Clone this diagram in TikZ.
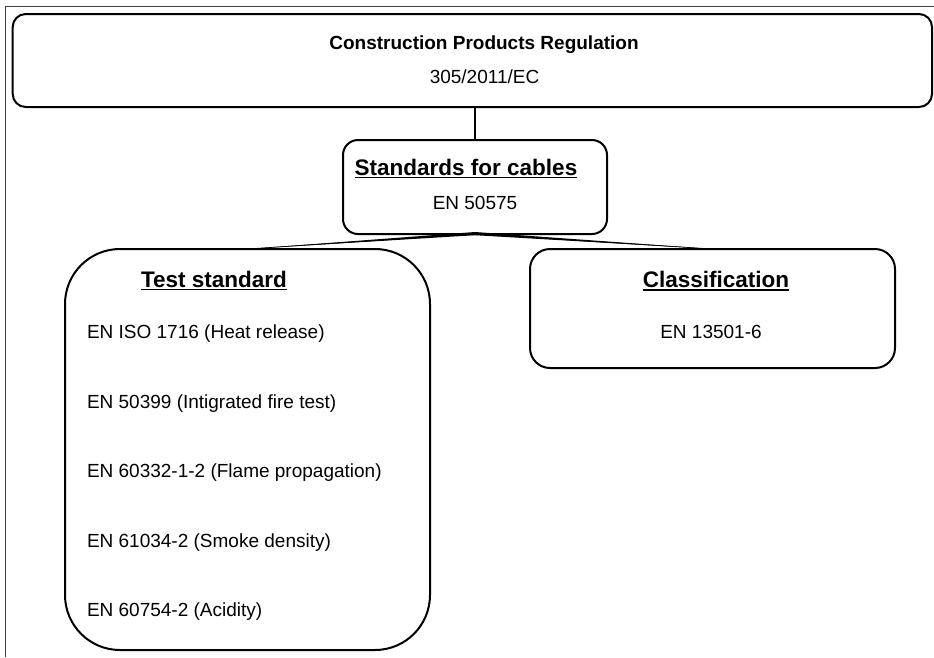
\documentclass[tikz,border=0pt]{standalone}
\usepackage{fontspec}
\setmainfont{Liberation Sans}
\begin{document}
\begin{tikzpicture}[x=1pt,y=-1pt,
  box/.style={draw, line width=2pt, inner sep=0pt, outer sep=0pt},
  body/.style={font=\fontsize{19}{22}\selectfont, inner sep=0pt, outer sep=0pt, anchor=base},
  item/.style={body, anchor=base west},
  toptitle/.style={font=\fontsize{19}{22}\selectfont\bfseries, inner sep=0pt, outer sep=0pt, anchor=base},
  head/.style={font=\fontsize{22.5}{26}\selectfont\bfseries, inner sep=0pt, outer sep=0pt, anchor=base},
  uline/.style={line width=1.4pt},
  link/.style={line width=2pt}]
\useasboundingbox (0,0) rectangle (934,657);
% outer frame
\draw[line width=1pt, black!75] (5,657) -- (5,6) -- (934,6);

% boxes
\node[box, rounded corners=13pt, minimum width=919.3pt, minimum height=93pt] (cpr) at (472.35,60.5) {};
\node[box, rounded corners=15pt, minimum width=264pt, minimum height=94pt] (std) at (475,187) {};
\node[box, rounded corners=55pt, minimum width=365pt, minimum height=401pt] (test) at (247.5,449.5) {};
\node[box, rounded corners=20pt, minimum width=365pt, minimum height=119pt] (cls) at (712.5,308.5) {};

% connectors
\draw[link] (std.north |- cpr.south) -- (std.north);
\fill (test.north) -- ([yshift=2pt]std.south) -- ([yshift=-1.2pt]std.south) -- cycle;
\draw[line width=0.7pt] (std.south) -- (test.north);
\fill (cls.north) -- ([yshift=2pt]std.south) -- ([yshift=-1.2pt]std.south) -- cycle;
\draw[line width=0.7pt] (std.south) -- (cls.north);

% texts
\node[toptitle] (t1) at (484,49.5) {Construction Products Regulation};
\node[body] (t2) at (484.5,83.5) {305/2011/EC};

\node[head] (h1) at (466,175) {Standards for cables};
\draw[uline] ([yshift=-2.5pt]h1.base west) -- ([yshift=-2.5pt]h1.base east);
\node[body] (s1) at (475,209.5) {EN 50575};

\node[head] (h2) at (214,287) {Test standard};
\draw[uline] ([yshift=-2.5pt]h2.base west) -- ([yshift=-2.5pt]h2.base east);
\node[item] (i1) at (87,338.3) {EN ISO 1716 (Heat release)};
\node[item] (i2) at (87,408) {EN 50399 (Intigrated fire test)};
\node[item] (i3) at (87,477.5) {EN 60332-1-2 (Flame propagation)};
\node[item] (i4) at (87,547.3) {EN 61034-2 (Smoke density)};
\node[item] (i5) at (87,616.7) {EN 60754-2 (Acidity)};

\node[head] (h3) at (716,287.3) {Classification};
\draw[uline] ([yshift=-2.5pt]h3.base west) -- ([yshift=-2.5pt]h3.base east);
\node[body] (c1) at (711,338.7) {EN 13501-6};
\end{tikzpicture}
\end{document}
